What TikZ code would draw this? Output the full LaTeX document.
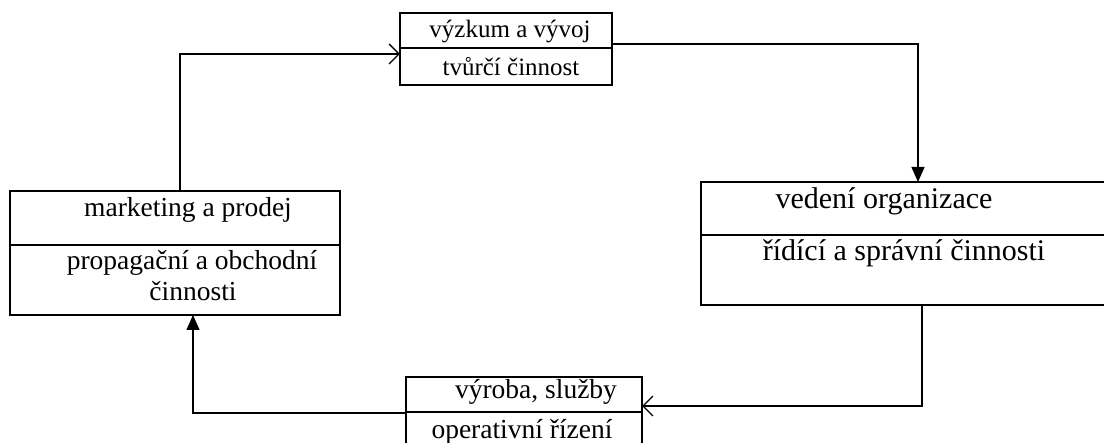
\documentclass[tikz,border=0pt]{standalone}
\usepackage{fontspec}
\setmainfont{Liberation Serif}
\usetikzlibrary{arrows.meta,calc}
\begin{document}
\begin{tikzpicture}[x=1pt,y=-1pt,
  box/.style={draw, line width=1.3pt, rectangle, inner sep=0pt, outer sep=0pt, anchor=north west},
  divider/.style={line width=1.3pt},
  txt/.style={inner sep=0pt},
  small/.style={txt, font=\fontsize{25}{28}\selectfont},
  mid/.style={txt, font=\fontsize{27.5}{30}\selectfont},
  large/.style={txt, font=\fontsize{30}{32}\selectfont},
  conn/.style={line width=1.3pt},
  openarr/.style={conn, -{Straight Barb[length=10pt,width=20pt,line width=1.3pt]}},
  triarr/.style={conn, -{Triangle[length=15pt,width=13pt]}}]
\clip (0,0) rectangle (1104,443);
% boxes
\node[box, minimum width=212pt, minimum height=72pt] (vv) at (400,13) {};
\node[box, minimum width=440pt, minimum height=123pt] (vo) at (701,182) {};
\node[box, minimum width=236pt, minimum height=90pt] (vs) at (406,377) {};
\node[box, minimum width=330pt, minimum height=124pt] (mp) at (10,191) {};
% dividers
\draw[divider] ($(vv.north west)+(0,35)$) -- ($(vv.north east)+(0,35)$);
\draw[divider] ($(vo.north west)+(0,53)$) -- ($(vo.north east)+(0,53)$);
\draw[divider] ($(vs.north west)+(0,35)$) -- ($(vs.north east)+(0,35)$);
\draw[divider] ($(mp.north west)+(0,54)$) -- ($(mp.north east)+(0,54)$);
% texts
\node[small] (t1) at (510,32) {výzkum a vývoj};
\node[small] (t2) at (511,67) {tvůrčí činnost};
\node[large] (t3) at (884,201) {vedení organizace};
\node[large] (t4) at (904,253) {řídící a správní činnosti};
\node[mid] (t5) at (536,392) {výroba, služby};
\node[mid] (t6) at (522,432) {operativní řízení};
\node[mid] (t7) at (188,210) {marketing a prodej};
\node[mid] (t8) at (192,263) {propagační a obchodní};
\node[mid] (t9) at (193,291) {činnosti};
% connectors
\coordinate (c1) at (180,54);
\coordinate (c2) at (918,44);
\coordinate (c3) at (922,406);
\coordinate (c4) at (193,413);
\draw[openarr] (mp.north -| c1) -- (c1) -- (vv.west |- c1);
\draw[triarr] (vv.east |- c2) -- (c2) -- (vo.north -| c2);
\draw[openarr] (vo.south -| c3) -- (c3) -- (vs.east |- c3);
\draw[triarr] (vs.west |- c4) -- (c4) -- (mp.south -| c4);
\end{tikzpicture}
\end{document}
